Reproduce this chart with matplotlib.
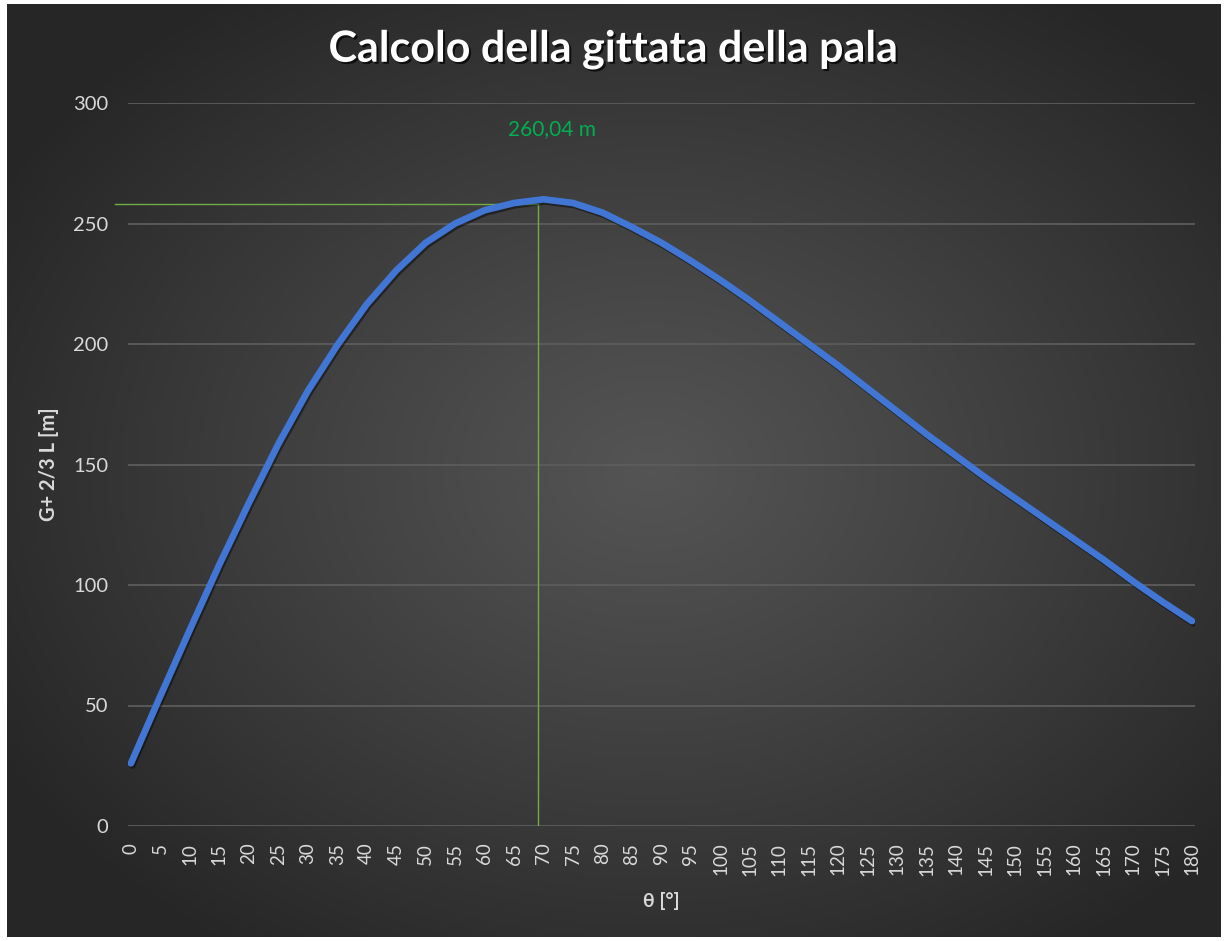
import numpy as np
import matplotlib
matplotlib.use('Agg')
import matplotlib.pyplot as plt
import matplotlib.patheffects as pe

# blade throw distance vs. release angle
angoli = list(range(0, 181, 5))
gittata = [26, 54, 81.5, 108.5, 134, 158.5, 180.5, 199.5, 216.5, 230.5,
           242, 250, 255.5, 258.5, 260.04, 258.5, 254.5, 248.5, 242, 234.5,
           226.5, 218, 209, 200, 191, 181.5, 172, 162.5, 153.5, 144.5,
           136, 127.5, 119, 110.5, 101.5, 93, 85]
y_ticks = [0, 50, 100, 150, 200, 250, 300]

# hand-drawn guide lines towards the maximum
guida_x = 69
guida_y = 258

plt.rcParams['font.family'] = ['Lato', 'DejaVu Sans']

fig = plt.figure(figsize=(12.25, 9.41), dpi=100)
fig.patch.set_facecolor('white')

# dark radial background
bg = fig.add_axes([7/1225, 4/941, 1214/1225, 933/941])
h, w = 400, 520
yy, xx = np.mgrid[0:h, 0:w]
cx, cy = w*0.53, h*0.50
r = np.sqrt(((xx - cx)/(w*0.62))**2 + ((yy - cy)/(h*0.62))**2)
r = np.clip(r, 0, 1)
shade = 0.33 - (0.33 - 0.15)*r**1.1
bg.imshow(np.dstack([shade, shade, shade]), aspect='auto', extent=[0, 1, 0, 1])
bg.set_axis_off()

ax = fig.add_axes([128/1225, 1 - 826/941, 1067/1225, 723/941])
ax.set_facecolor('none')
for s in ax.spines.values():
    s.set_visible(False)

ax.set_xlim(-0.5, 180.5)
ax.set_ylim(0, 300)
ax.set_xticks(angoli)
ax.set_yticks(y_ticks)
ax.tick_params(axis='both', length=0, colors='#d9d9d9')
ax.tick_params(axis='y', labelsize=14.5, pad=14)
ax.tick_params(axis='x', labelsize=13.5, pad=12, labelrotation=90)
ax.yaxis.grid(True, color='#5c5c5c', lw=1.3)
ax.set_axisbelow(True)

ax.plot(angoli, gittata, color='#4276d4', lw=4.8, solid_capstyle='round',
        solid_joinstyle='round', zorder=4,
        path_effects=[pe.SimpleLineShadow(offset=(1, -1.5), shadow_color='k', alpha=0.45),
                      pe.Normal()])

ax.plot([-2.7, guida_x], [guida_y, guida_y], color='#70ad47', lw=1.0,
        clip_on=False, zorder=3)
ax.plot([guida_x, guida_x], [0, guida_y], color='#70ad47', lw=1.0, zorder=3)

i_max = int(np.argmax(gittata))
etichetta = f"{gittata[i_max]:.2f}".replace('.', ',') + ' m'
ax.text(71.5, 289, etichetta, ha='center', va='center', color='#00b050',
        fontsize=15)

ax.set_ylabel('G+ 2/3 L [m]', color='#d9d9d9', fontsize=14.5, fontweight='bold',
              labelpad=10)
ax.set_xlabel('θ [°]', color='#d9d9d9', fontsize=14, fontweight='bold',
              labelpad=12)

fig.text(0.5, 1 - 49/941, 'Calcolo della gittata della pala', ha='center',
         va='center', color='white', fontsize=31, fontweight='bold',
         path_effects=[pe.SimplePatchShadow(offset=(1.5, -1.5), shadow_rgbFace='k', alpha=0.7),
                       pe.Normal()])

fig.savefig('out.png', dpi=100, facecolor=fig.get_facecolor())
